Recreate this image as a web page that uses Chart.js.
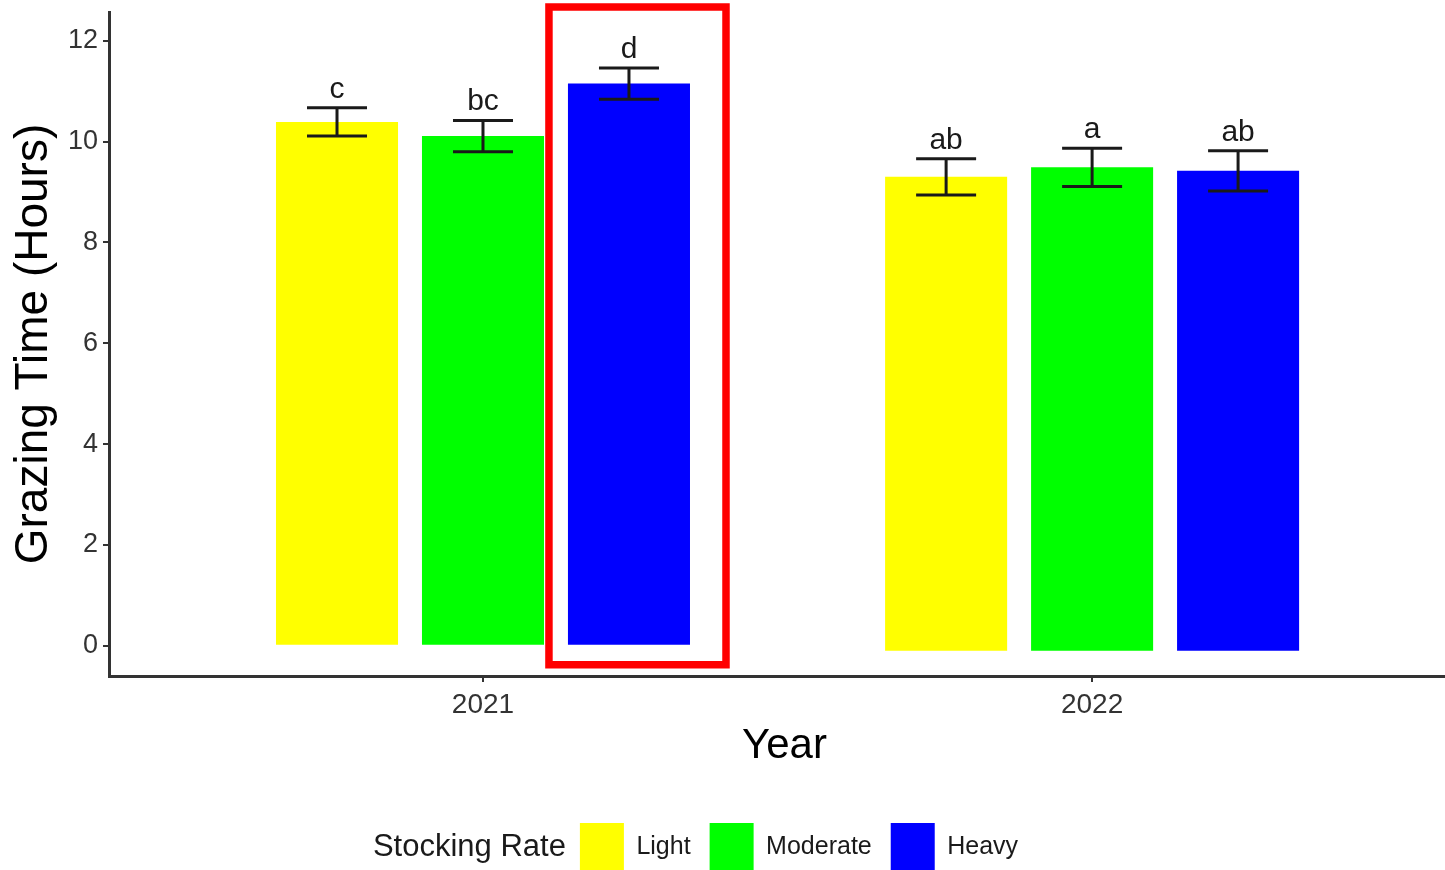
<!DOCTYPE html>
<html>
<head>
<meta charset="utf-8">
<title>Grazing Time</title>
<script src="https://cdn.jsdelivr.net/npm/chart.js@4.4.1/dist/chart.umd.min.js"></script>
<style>
  html, body { margin: 0; padding: 0; background: #fff; overflow: hidden; }
  #grafico { display: block; }
</style>
</head>
<body>
<canvas id="grafico" width="1460" height="881"></canvas>
<script>
// Dados
const anos = ['2021', '2022'];
const taxas = ['Light', 'Moderate', 'Heavy'];
const leve = [10.39, 9.30];
const moderado = [10.11, 9.49];
const pesado = [11.15, 9.42];
const erroLeve = [0.28, 0.36];
const erroModerado = [0.31, 0.38];
const erroPesado = [0.31, 0.40];
const letrasLeve = ['c', 'ab'];
const letrasModerado = ['bc', 'a'];
const letrasPesado = ['d', 'ab'];
const baseBarras = [0, -0.1];
const ticksY = [0, 2, 4, 6, 8, 10, 12];

const cores = ['#ffff00', '#00ff00', '#0000ff'];
const medias = [leve, moderado, pesado];
const erros = [erroLeve, erroModerado, erroPesado];
const letras = [letrasLeve, letrasModerado, letrasPesado];
const fonte = '"Liberation Sans", Arial, Helvetica, sans-serif';

const serie = (valores) => anos.map((a, i) => ({ x: i + 1, y: [baseBarras[i], valores[i]] }));

// -------------------------------------------------------
// Barras de erro, letras, destaque e titulo da legenda
const extras = {
  id: 'extras',
  afterLayout(chart) {
    // abre espaço a esquerda da legenda para o titulo
    chart.legend.left += 138;
  },
  afterDatasetsDraw(chart) {
    const ctx = chart.ctx;
    const y = chart.scales.y;
    chart.data.datasets.forEach((ds, i) => {
      chart.getDatasetMeta(i).data.forEach((barra, j) => {
        const v = medias[i][j], e = erros[i][j];
        const yTopo = y.getPixelForValue(v + e);
        const yBase = y.getPixelForValue(v - e);
        ctx.save();
        ctx.strokeStyle = '#1a1a1a';
        ctx.lineWidth = 3;
        ctx.beginPath();
        ctx.moveTo(barra.x, yTopo); ctx.lineTo(barra.x, yBase);
        ctx.moveTo(barra.x - 30, yTopo); ctx.lineTo(barra.x + 30, yTopo);
        ctx.moveTo(barra.x - 30, yBase); ctx.lineTo(barra.x + 30, yBase);
        ctx.stroke();
        ctx.fillStyle = '#1a1a1a';
        ctx.font = '30px ' + fonte;
        ctx.textAlign = 'center';
        ctx.textBaseline = 'alphabetic';
        ctx.fillText(letras[i][j], barra.x, yTopo - 10);
        ctx.restore();
      });
    });
  },
  afterDraw(chart) {
    const ctx = chart.ctx;
    const y = chart.scales.y;
    // retangulo vermelho em volta de Heavy 2021
    const b = chart.getDatasetMeta(2).data[0];
    const esq = b.x - b.width / 2 - 19;
    const dir = b.x + b.width / 2 + 36;
    const topo = chart.chartArea.top - 5;
    const fundo = y.getPixelForValue(0) + 19;
    ctx.save();
    ctx.strokeStyle = '#ff0000';
    ctx.lineWidth = 7.5;
    ctx.strokeRect(esq, topo, dir - esq, fundo - topo);
    ctx.restore();

    // titulo da legenda
    const hb = chart.legend.legendHitBoxes[0];
    if (hb) {
      ctx.save();
      ctx.fillStyle = '#1a1a1a';
      ctx.font = '31px ' + fonte;
      ctx.textAlign = 'right';
      ctx.textBaseline = 'middle';
      ctx.fillText('Stocking Rate', hb.left - 14, hb.top + hb.height / 2);
      ctx.restore();
    }
  }
};

// -------------------------------------------------------
// Grafico barras
const ctx = document.getElementById('grafico').getContext('2d');
const grafico = new Chart(ctx, {
  type: 'bar',
  data: {
    datasets: taxas.map((t, i) => ({
      label: t,
      data: serie(medias[i]),
      backgroundColor: cores[i],
      borderWidth: 0,
      categoryPercentage: 0.719,
      barPercentage: 0.836
    }))
  },
  options: {
    responsive: false,
    animation: false,
    layout: { padding: { top: 12, left: 0, right: 0, bottom: 0 } },
    scales: {
      x: {
        type: 'linear',
        min: 0.386,
        max: 2.604,
        offset: false,
        afterBuildTicks: (s) => { s.ticks = anos.map((a, i) => ({ value: i + 1 })); },
        afterFit: (s) => { s.height = 128; s.paddingLeft = 0; s.paddingRight = 0; },
        grid: { offset: false, drawOnChartArea: false, drawTicks: true, tickLength: 6, color: '#333', lineWidth: 2 },
        border: { display: true, color: '#333', width: 3 },
        ticks: {
          padding: 6,
          color: '#333',
          font: { size: 28, family: fonte },
          maxRotation: 0,
          callback: (v) => anos[v - 1]
        },
        title: {
          display: true,
          text: 'Year',
          color: '#000',
          font: { size: 42, family: fonte },
          padding: { top: 0, bottom: 32 }
        }
      },
      y: {
        min: -0.6,
        max: 12.57,
        afterBuildTicks: (s) => { s.ticks = ticksY.map(v => ({ value: v })); },
        afterFit: (s) => { s.width = 109; s.paddingTop = 0; s.paddingBottom = 0; },
        grid: { drawOnChartArea: false, drawTicks: true, tickLength: 6, color: '#333', lineWidth: 2 },
        border: { display: true, color: '#333', width: 3 },
        ticks: {
          padding: 5,
          color: '#333',
          font: { size: 27, family: fonte },
          callback: (v) => String(v)
        },
        title: {
          display: true,
          text: 'Grazing Time (Hours)',
          color: '#000',
          font: { size: 46, family: fonte },
          padding: { top: 7, bottom: 0 }
        }
      }
    },
    plugins: {
      legend: {
        position: 'bottom',
        labels: {
          boxWidth: 44,
          boxHeight: 48,
          padding: 19,
          color: '#1a1a1a',
          font: { size: 25, family: fonte }
        }
      },
      tooltip: { enabled: false }
    }
  },
  plugins: [extras]
});
</script>
</body>
</html>
